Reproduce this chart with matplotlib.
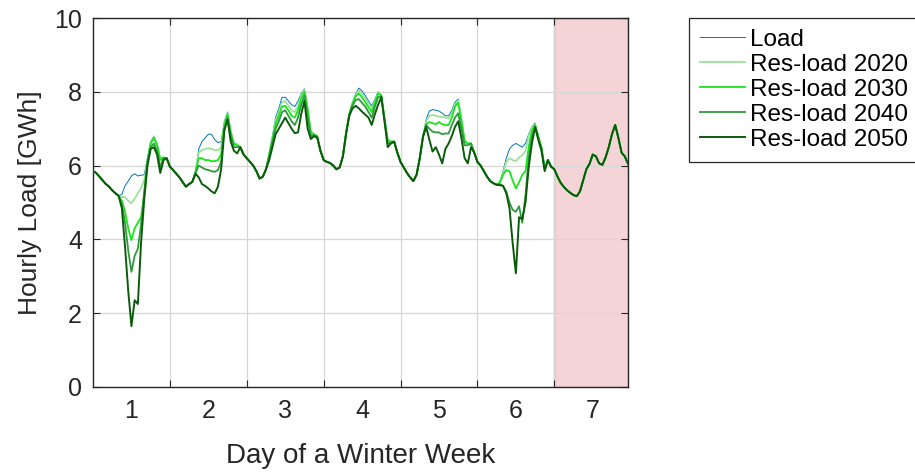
import numpy as np
import matplotlib
matplotlib.use("Agg")
import matplotlib.pyplot as plt

plt.rcParams['font.family'] = ['Liberation Sans', 'DejaVu Sans']

# hourly values over one winter week (168 hours), GWh
load = [
    5.85, 5.80, 5.70, 5.60, 5.50, 5.43, 5.33, 5.25, 5.18, 5.22, 5.45, 5.58, 5.72, 5.78, 5.72, 5.74, 5.75, 6.20, 6.65, 6.80, 6.60, 6.20, 6.22, 6.20,
    5.97, 5.88, 5.78, 5.68, 5.55, 5.43, 5.50, 5.56, 5.83, 6.45, 6.65, 6.75, 6.85, 6.85, 6.70, 6.62, 6.65, 7.20, 7.45, 6.95, 6.62, 6.58, 6.50, 6.30,
    6.20, 6.10, 6.00, 5.85, 5.65, 5.70, 5.90, 6.35, 6.80, 7.30, 7.55, 7.85, 7.85, 7.75, 7.65, 7.60, 7.75, 7.95, 8.08, 7.60, 6.95, 6.85, 6.80, 6.40,
    6.15, 6.10, 6.07, 6.00, 5.90, 5.95, 6.25, 6.90, 7.40, 7.70, 7.95, 8.10, 8.02, 7.90, 7.75, 7.62, 7.80, 8.00, 7.90, 7.30, 6.70, 6.65, 6.65, 6.35,
    6.10, 5.95, 5.80, 5.68, 5.58, 5.75, 6.20, 6.80, 7.25, 7.48, 7.52, 7.50, 7.48, 7.42, 7.35, 7.35, 7.50, 7.72, 7.80, 7.30, 6.70, 6.60, 6.60, 6.35,
    6.10, 6.00, 5.85, 5.70, 5.58, 5.52, 5.48, 5.55, 5.85, 6.20, 6.45, 6.55, 6.60, 6.55, 6.50, 6.60, 6.85, 7.05, 7.15, 6.80, 6.50, 5.90, 6.15, 5.97,
    5.90, 5.70, 5.53, 5.42, 5.33, 5.26, 5.20, 5.17, 5.30, 5.60, 5.90, 6.05, 6.30, 6.25, 6.06, 6.02, 6.22, 6.50, 6.85, 7.10, 6.75, 6.35, 6.25, 6.05,
]

res_2020 = [
    5.85, 5.80, 5.70, 5.60, 5.50, 5.43, 5.33, 5.25, 5.18, 5.15, 5.15, 5.05, 4.98, 5.10, 5.25, 5.40, 5.60, 6.15, 6.62, 6.78, 6.58, 6.20, 6.22, 6.20,
    5.97, 5.88, 5.78, 5.68, 5.55, 5.43, 5.50, 5.56, 5.83, 6.35, 6.42, 6.45, 6.47, 6.45, 6.42, 6.42, 6.50, 7.15, 7.42, 6.92, 6.60, 6.58, 6.50, 6.30,
    6.20, 6.10, 6.00, 5.85, 5.65, 5.70, 5.90, 6.32, 6.75, 7.22, 7.45, 7.72, 7.75, 7.62, 7.50, 7.45, 7.62, 7.90, 8.05, 7.58, 6.92, 6.85, 6.80, 6.40,
    6.15, 6.10, 6.07, 6.00, 5.90, 5.95, 6.25, 6.90, 7.40, 7.70, 7.92, 8.03, 7.95, 7.82, 7.68, 7.55, 7.75, 7.98, 7.90, 7.30, 6.70, 6.65, 6.65, 6.35,
    6.10, 5.95, 5.80, 5.68, 5.58, 5.75, 6.20, 6.78, 7.20, 7.35, 7.37, 7.35, 7.33, 7.32, 7.30, 7.28, 7.42, 7.66, 7.76, 7.28, 6.70, 6.60, 6.60, 6.35,
    6.10, 6.00, 5.85, 5.70, 5.58, 5.52, 5.48, 5.55, 5.80, 6.10, 6.20, 6.15, 6.12, 6.22, 6.28, 6.40, 6.80, 7.02, 7.12, 6.80, 6.50, 5.90, 6.15, 5.97,
    5.90, 5.70, 5.53, 5.42, 5.33, 5.26, 5.20, 5.17, 5.30, 5.60, 5.90, 6.05, 6.30, 6.25, 6.06, 6.02, 6.22, 6.50, 6.85, 7.10, 6.75, 6.35, 6.25, 6.05,
]

res_2030 = [
    5.85, 5.80, 5.70, 5.60, 5.50, 5.43, 5.33, 5.25, 5.18, 5.05, 4.75, 4.30, 3.98, 4.30, 4.45, 4.60, 5.20, 6.10, 6.60, 6.75, 6.55, 6.15, 6.22, 6.20,
    5.97, 5.88, 5.78, 5.68, 5.55, 5.43, 5.50, 5.56, 5.83, 6.20, 6.20, 6.15, 6.15, 6.12, 6.12, 6.15, 6.30, 7.10, 7.38, 6.88, 6.58, 6.55, 6.50, 6.30,
    6.20, 6.10, 6.00, 5.85, 5.65, 5.70, 5.90, 6.28, 6.70, 7.12, 7.35, 7.60, 7.62, 7.50, 7.35, 7.30, 7.50, 7.82, 8.00, 7.50, 6.88, 6.85, 6.80, 6.40,
    6.15, 6.10, 6.07, 6.00, 5.90, 5.95, 6.25, 6.90, 7.40, 7.68, 7.88, 7.95, 7.85, 7.72, 7.58, 7.45, 7.70, 7.95, 7.90, 7.25, 6.68, 6.65, 6.65, 6.35,
    6.10, 5.95, 5.80, 5.68, 5.58, 5.75, 6.20, 6.78, 7.12, 7.18, 7.15, 7.12, 7.18, 7.12, 7.10, 7.10, 7.30, 7.60, 7.70, 7.20, 6.65, 6.60, 6.60, 6.35,
    6.10, 6.00, 5.85, 5.70, 5.58, 5.52, 5.48, 5.55, 5.75, 5.88, 5.85, 5.60, 5.38, 5.55, 5.75, 5.85, 6.50, 6.95, 7.10, 6.78, 6.50, 5.90, 6.15, 5.97,
    5.90, 5.70, 5.53, 5.42, 5.33, 5.26, 5.20, 5.17, 5.30, 5.60, 5.90, 6.05, 6.30, 6.25, 6.06, 6.02, 6.22, 6.50, 6.85, 7.10, 6.75, 6.35, 6.25, 6.05,
]

res_2040 = [
    5.85, 5.80, 5.70, 5.60, 5.50, 5.43, 5.33, 5.25, 5.18, 4.95, 4.45, 3.70, 3.12, 3.55, 3.75, 4.40, 5.30, 6.10, 6.50, 6.60, 6.40, 5.95, 6.20, 6.20,
    5.97, 5.88, 5.78, 5.68, 5.55, 5.43, 5.50, 5.56, 5.80, 6.00, 5.95, 5.90, 5.88, 5.85, 5.83, 5.88, 6.10, 7.00, 7.30, 6.80, 6.50, 6.50, 6.50, 6.30,
    6.20, 6.10, 6.00, 5.85, 5.65, 5.70, 5.90, 6.25, 6.62, 7.00, 7.20, 7.45, 7.50, 7.35, 7.20, 7.10, 7.30, 7.65, 7.90, 7.30, 6.80, 6.82, 6.78, 6.40,
    6.15, 6.10, 6.07, 6.00, 5.90, 5.95, 6.25, 6.88, 7.38, 7.62, 7.78, 7.80, 7.70, 7.60, 7.45, 7.30, 7.60, 7.85, 7.88, 7.22, 6.60, 6.62, 6.65, 6.35,
    6.10, 5.95, 5.80, 5.68, 5.58, 5.75, 6.20, 6.78, 7.10, 7.00, 6.92, 6.90, 6.90, 6.85, 6.87, 6.87, 7.10, 7.30, 7.42, 7.00, 6.55, 6.55, 6.60, 6.35,
    6.10, 6.00, 5.85, 5.70, 5.58, 5.52, 5.48, 5.50, 5.45, 5.30, 5.00, 4.80, 4.75, 4.90, 4.45, 5.20, 6.20, 6.80, 7.05, 6.75, 6.45, 5.90, 6.15, 5.97,
    5.90, 5.70, 5.53, 5.42, 5.33, 5.26, 5.20, 5.17, 5.30, 5.60, 5.90, 6.05, 6.30, 6.25, 6.06, 6.02, 6.22, 6.50, 6.85, 7.10, 6.75, 6.35, 6.25, 6.05,
]

res_2050 = [
    5.85, 5.80, 5.70, 5.60, 5.50, 5.43, 5.33, 5.25, 5.18, 4.85, 3.80, 2.60, 1.65, 2.35, 2.25, 3.90, 5.10, 6.00, 6.45, 6.50, 6.30, 5.80, 6.15, 6.20,
    5.97, 5.88, 5.78, 5.68, 5.55, 5.43, 5.50, 5.56, 5.78, 5.68, 5.50, 5.45, 5.38, 5.30, 5.25, 5.43, 5.90, 6.95, 7.25, 6.65, 6.40, 6.33, 6.50, 6.30,
    6.20, 6.10, 6.00, 5.85, 5.65, 5.70, 5.90, 6.15, 6.50, 6.85, 7.00, 7.15, 7.30, 7.15, 7.00, 6.88, 6.90, 7.40, 7.75, 7.00, 6.72, 6.80, 6.75, 6.40,
    6.15, 6.10, 6.07, 6.00, 5.90, 5.95, 6.25, 6.85, 7.35, 7.55, 7.62, 7.55, 7.46, 7.38, 7.30, 7.10, 7.40, 7.65, 7.85, 7.20, 6.50, 6.60, 6.65, 6.35,
    6.10, 5.95, 5.80, 5.68, 5.58, 5.75, 6.20, 6.78, 7.05, 6.70, 6.38, 6.50, 6.30, 6.06, 6.45, 6.60, 6.80, 7.05, 7.20, 6.75, 6.20, 6.06, 6.50, 6.35,
    6.10, 6.00, 5.85, 5.70, 5.58, 5.52, 5.48, 5.47, 5.45, 5.25, 4.85, 3.90, 3.08, 4.60, 4.55, 5.00, 5.95, 6.60, 7.05, 6.70, 6.40, 5.85, 6.15, 5.97,
    5.90, 5.70, 5.53, 5.42, 5.33, 5.26, 5.20, 5.17, 5.30, 5.60, 5.90, 6.05, 6.30, 6.25, 6.06, 6.02, 6.22, 6.50, 6.85, 7.10, 6.75, 6.35, 6.25, 6.05,
]

series = [load, res_2020, res_2030, res_2040, res_2050]
labels = ["Load", "Res-load 2020", "Res-load 2030", "Res-load 2040", "Res-load 2050"]
colors = ["#0072bd", "#9be39b", "#19e619", "#2e9a3c", "#0a5c0a"]
widths = [0.7, 1.3, 1.3, 1.3, 1.4]

day_labels = ["1", "2", "3", "4", "5", "6", "7"]

hours = np.arange(len(load))

fig = plt.figure(figsize=(9.15, 4.75), dpi=100)
ax = fig.add_axes([93/915, 1-387/475, 535/915, 369/475])

# weekend highlighted
ax.axvspan(144, 167, facecolor="#f5d4d7", edgecolor="#cf9aa0", lw=1.0, zorder=0)

for vals, lab, col, lw in zip(series, labels, colors, widths):
    ax.plot(hours, vals, color=col, lw=lw, label=lab, zorder=3)

ax.set_xlim(0, 167)
ax.set_ylim(0, 10)

ax.set_xticks([24, 48, 72, 96, 120, 144])
ax.set_xticklabels([])
ax.set_xticks([12 + 24*i for i in range(7)], minor=True)
ax.set_xticklabels(day_labels, minor=True)
ax.set_yticks([0, 2, 4, 6, 8, 10])

ax.tick_params(axis="both", which="major", direction="in", length=5, width=0.8,
               top=True, right=True, colors="#262626", labelsize=18, pad=8)
ax.tick_params(axis="x", which="minor", length=0, labelsize=18, pad=9, colors="#262626")

ax.grid(True, which="major", color="#d6d6d6", lw=0.9)
ax.set_axisbelow(True)

for s in ax.spines.values():
    s.set_color("#262626")
    s.set_linewidth(1.0)

ax.set_xlabel("Day of a Winter Week", fontsize=20, color="#262626", labelpad=14)
ax.set_ylabel("Hourly Load [GWh]", fontsize=19, color="#262626", labelpad=9)

leg = fig.legend(loc="upper left", bbox_to_anchor=(689/915, 1-18/475), fontsize=17.5,
                 frameon=True, fancybox=False, edgecolor="#262626", framealpha=1,
                 handlelength=1.85, handletextpad=0.2, labelspacing=0.12,
                 borderpad=0.45, borderaxespad=0)
leg.get_frame().set_linewidth(0.9)

fig.savefig("out.png", dpi=100)
